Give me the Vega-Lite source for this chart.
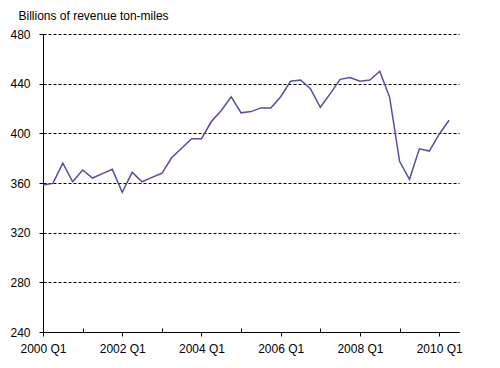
{
  "$schema": "https://vega.github.io/schema/vega-lite/v6.json",
  "width": 416,
  "height": 298,
  "autosize": "none",
  "padding": {"left": 43, "top": 34, "right": 41, "bottom": 36},
  "background": "white",
  "config": {
    "view": {"stroke": null},
    "font": "Liberation Sans",
    "axis": {"labelFont": "Liberation Sans", "labelFontSize": 12, "labelColor": "#000000", "domainColor": "#000000", "tickColor": "#000000", "titleFont": "Liberation Sans"}
  },
  "data": {
    "values": [
      {"quarter": "2000 Q1", "t": 2000.0, "v": 358.4},
      {"quarter": "2000 Q2", "t": 2000.25, "v": 359.7},
      {"quarter": "2000 Q3", "t": 2000.5, "v": 376},
      {"quarter": "2000 Q4", "t": 2000.75, "v": 361},
      {"quarter": "2001 Q1", "t": 2001.0, "v": 370.5},
      {"quarter": "2001 Q2", "t": 2001.25, "v": 364},
      {"quarter": "2001 Q3", "t": 2001.5, "v": 367.5},
      {"quarter": "2001 Q4", "t": 2001.75, "v": 371},
      {"quarter": "2002 Q1", "t": 2002.0, "v": 352.5},
      {"quarter": "2002 Q2", "t": 2002.25, "v": 368.6},
      {"quarter": "2002 Q3", "t": 2002.5, "v": 361},
      {"quarter": "2002 Q4", "t": 2002.75, "v": 364.5},
      {"quarter": "2003 Q1", "t": 2003.0, "v": 367.8},
      {"quarter": "2003 Q2", "t": 2003.25, "v": 380.5},
      {"quarter": "2003 Q3", "t": 2003.5, "v": 388},
      {"quarter": "2003 Q4", "t": 2003.75, "v": 395.7},
      {"quarter": "2004 Q1", "t": 2004.0, "v": 395.7},
      {"quarter": "2004 Q2", "t": 2004.25, "v": 409.5},
      {"quarter": "2004 Q3", "t": 2004.5, "v": 418.4},
      {"quarter": "2004 Q4", "t": 2004.75, "v": 429.4},
      {"quarter": "2005 Q1", "t": 2005.0, "v": 416.5},
      {"quarter": "2005 Q2", "t": 2005.25, "v": 417.5},
      {"quarter": "2005 Q3", "t": 2005.5, "v": 420.5},
      {"quarter": "2005 Q4", "t": 2005.75, "v": 420.5},
      {"quarter": "2006 Q1", "t": 2006.0, "v": 429.5},
      {"quarter": "2006 Q2", "t": 2006.25, "v": 442},
      {"quarter": "2006 Q3", "t": 2006.5, "v": 443},
      {"quarter": "2006 Q4", "t": 2006.75, "v": 436},
      {"quarter": "2007 Q1", "t": 2007.0, "v": 421},
      {"quarter": "2007 Q2", "t": 2007.25, "v": 432},
      {"quarter": "2007 Q3", "t": 2007.5, "v": 443.5},
      {"quarter": "2007 Q4", "t": 2007.75, "v": 445},
      {"quarter": "2008 Q1", "t": 2008.0, "v": 442},
      {"quarter": "2008 Q2", "t": 2008.25, "v": 443},
      {"quarter": "2008 Q3", "t": 2008.5, "v": 450},
      {"quarter": "2008 Q4", "t": 2008.75, "v": 429},
      {"quarter": "2009 Q1", "t": 2009.0, "v": 377.5},
      {"quarter": "2009 Q2", "t": 2009.25, "v": 363},
      {"quarter": "2009 Q3", "t": 2009.5, "v": 387.5},
      {"quarter": "2009 Q4", "t": 2009.75, "v": 385.7},
      {"quarter": "2010 Q1", "t": 2010.0, "v": 399.3},
      {"quarter": "2010 Q2", "t": 2010.25, "v": 410.5}
    ]
  },
  "mark": {"type": "line", "color": "#50509E", "strokeWidth": 1.5},
  "encoding": {
    "x": {
      "field": "t",
      "type": "quantitative",
      "scale": {"domain": [2000, 2010.5], "nice": false, "zero": false},
      "axis": {
        "title": null,
        "grid": false,
        "values": [2000, 2001, 2002, 2003, 2004, 2005, 2006, 2007, 2008, 2009, 2010],
        "labelExpr": "datum.value % 2 == 0 ? datum.value + ' Q1' : ''",
        "tickSize": {"condition": {"test": "datum.value % 2 == 1", "value": -4}, "value": 4},
        "labelPadding": 7,
        "labelFlush": false,
        "labelOverlap": false
      }
    },
    "y": {
      "field": "v",
      "type": "quantitative",
      "scale": {"domain": [240, 480], "nice": false, "zero": false},
      "axis": {
        "values": [240, 280, 320, 360, 400, 440, 480],
        "tickSize": 4,
        "labelPadding": 9,
        "gridColor": "#000000",
        "gridDash": [3, 2],
        "gridOpacity": 1,
        "title": "Billions of revenue ton-miles",
        "titleAngle": 0,
        "titleAlign": "left",
        "titleBaseline": "alphabetic",
        "titleX": -25,
        "titleY": -15,
        "titleFontSize": 12,
        "titleFontWeight": "normal",
        "titleColor": "#000000"
      }
    }
  }
}
